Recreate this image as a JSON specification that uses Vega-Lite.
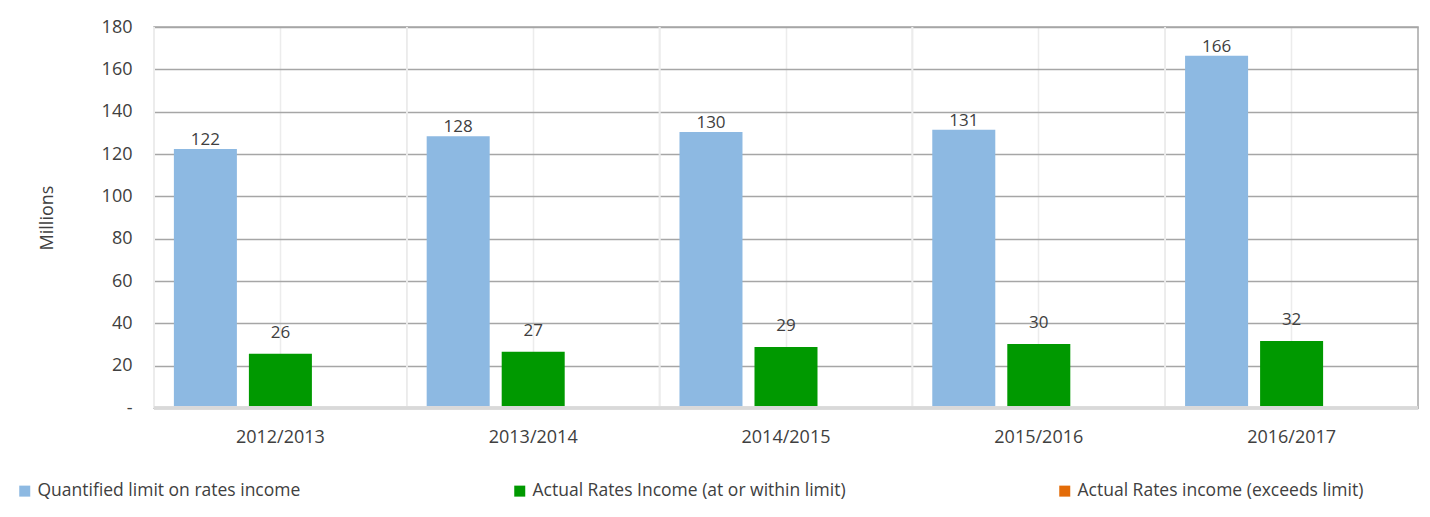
{
  "$schema": "https://vega.github.io/schema/vega-lite/v6.json",
  "width": 1264,
  "height": 381,
  "autosize": {"type": "none"},
  "padding": {"left": 154, "top": 27, "right": 12, "bottom": 109},
  "background": "white",
  "config": {
    "font": "Open Sans",
    "view": {"stroke": "#a6a6a6", "strokeWidth": 1.5}
  },
  "data": {
    "values": [
      {"year": "2012/2013", "series": "Quantified limit on rates income", "value": 122.4},
      {"year": "2012/2013", "series": "Actual Rates Income (at or within limit)", "value": 25.6},
      {"year": "2012/2013", "series": "Actual Rates income (exceeds limit)", "value": 0},
      {"year": "2013/2014", "series": "Quantified limit on rates income", "value": 128.4},
      {"year": "2013/2014", "series": "Actual Rates Income (at or within limit)", "value": 26.6},
      {"year": "2013/2014", "series": "Actual Rates income (exceeds limit)", "value": 0},
      {"year": "2014/2015", "series": "Quantified limit on rates income", "value": 130.4},
      {"year": "2014/2015", "series": "Actual Rates Income (at or within limit)", "value": 28.8},
      {"year": "2014/2015", "series": "Actual Rates income (exceeds limit)", "value": 0},
      {"year": "2015/2016", "series": "Quantified limit on rates income", "value": 131.4},
      {"year": "2015/2016", "series": "Actual Rates Income (at or within limit)", "value": 30.2},
      {"year": "2015/2016", "series": "Actual Rates income (exceeds limit)", "value": 0},
      {"year": "2016/2017", "series": "Quantified limit on rates income", "value": 166.4},
      {"year": "2016/2017", "series": "Actual Rates Income (at or within limit)", "value": 31.6},
      {"year": "2016/2017", "series": "Actual Rates income (exceeds limit)", "value": 0}
    ]
  },
  "layer": [
    {
      "mark": {"type": "rule", "color": "#ececec", "strokeWidth": 1.5},
      "encoding": {
        "x": {"field": "year", "type": "nominal", "bandPosition": 0, "title": null, "scale": {"paddingInner": 0, "paddingOuter": 0}}
      }
    },
    {
      "mark": {"type": "bar"},
      "encoding": {
        "x": {
          "field": "year", "type": "nominal", "title": null,
          "scale": {"paddingInner": 0, "paddingOuter": 0},
          "axis": {
            "labelAngle": 0, "labelAlign": "center", "labelFontSize": 18, "labelColor": "#404040", "labelPadding": 29,
            "ticks": false, "grid": true, "gridColor": "#ececec", "gridWidth": 1.5,
            "domain": false
          }
        },
        "xOffset": {
          "field": "series", "type": "nominal",
          "scale": {
            "domain": ["Quantified limit on rates income", "Actual Rates Income (at or within limit)", "Actual Rates income (exceeds limit)"],
            "paddingInner": 0.16, "paddingOuter": 0.265
          }
        },
        "y": {
          "field": "value", "type": "quantitative", "stack": null,
          "scale": {"domain": [0, 180], "nice": false},
          "axis": {
            "values": [0, 20, 40, 60, 80, 100, 120, 140, 160, 180],
            "labelExpr": "datum.value === 0 ? '-' : datum.label",
            "labelFontSize": 18, "labelColor": "#404040", "labelPadding": 22,
            "ticks": false, "domain": false,
            "grid": true, "gridColor": "#a6a6a6", "gridWidth": 1.5,
            "title": "Millions", "titleFontSize": 18, "titleFontWeight": "normal",
            "titleColor": "#404040", "titlePadding": 45
          }
        },
        "color": {
          "field": "series", "type": "nominal",
          "scale": {
            "domain": ["Quantified limit on rates income", "Actual Rates Income (at or within limit)", "Actual Rates income (exceeds limit)"],
            "range": ["#8db9e2", "#009900", "#e36c09"]
          },
          "legend": {
            "title": null, "orient": "none", "legendX": -138, "legendY": 455,
            "direction": "horizontal", "symbolType": "square", "symbolSize": 121,
            "symbolStrokeWidth": 0, "labelFontSize": 17.5, "labelColor": "#404040",
            "labelOffset": 4, "columnPadding": 210, "labelLimit": 500
          }
        }
      }
    },
    {
      "mark": {"type": "rule", "color": "#d9d9d9", "strokeWidth": 2.5},
      "encoding": {"y": {"datum": 0}}
    },
    {
      "transform": [{"filter": "datum.series === 'Quantified limit on rates income'"}],
      "mark": {"type": "text", "dy": -9, "baseline": "middle", "fontSize": 17, "color": "#404040"},
      "encoding": {
        "x": {"field": "year", "type": "nominal"},
        "xOffset": {"field": "series", "type": "nominal"},
        "y": {"field": "value", "type": "quantitative"},
        "text": {"field": "value", "type": "quantitative", "format": ".0f"}
      }
    },
    {
      "transform": [{"filter": "datum.series === 'Actual Rates Income (at or within limit)'"}],
      "mark": {"type": "text", "dy": -21, "baseline": "middle", "fontSize": 17, "color": "#404040"},
      "encoding": {
        "x": {"field": "year", "type": "nominal"},
        "xOffset": {"field": "series", "type": "nominal"},
        "y": {"field": "value", "type": "quantitative"},
        "text": {"field": "value", "type": "quantitative", "format": ".0f"}
      }
    }
  ]
}
